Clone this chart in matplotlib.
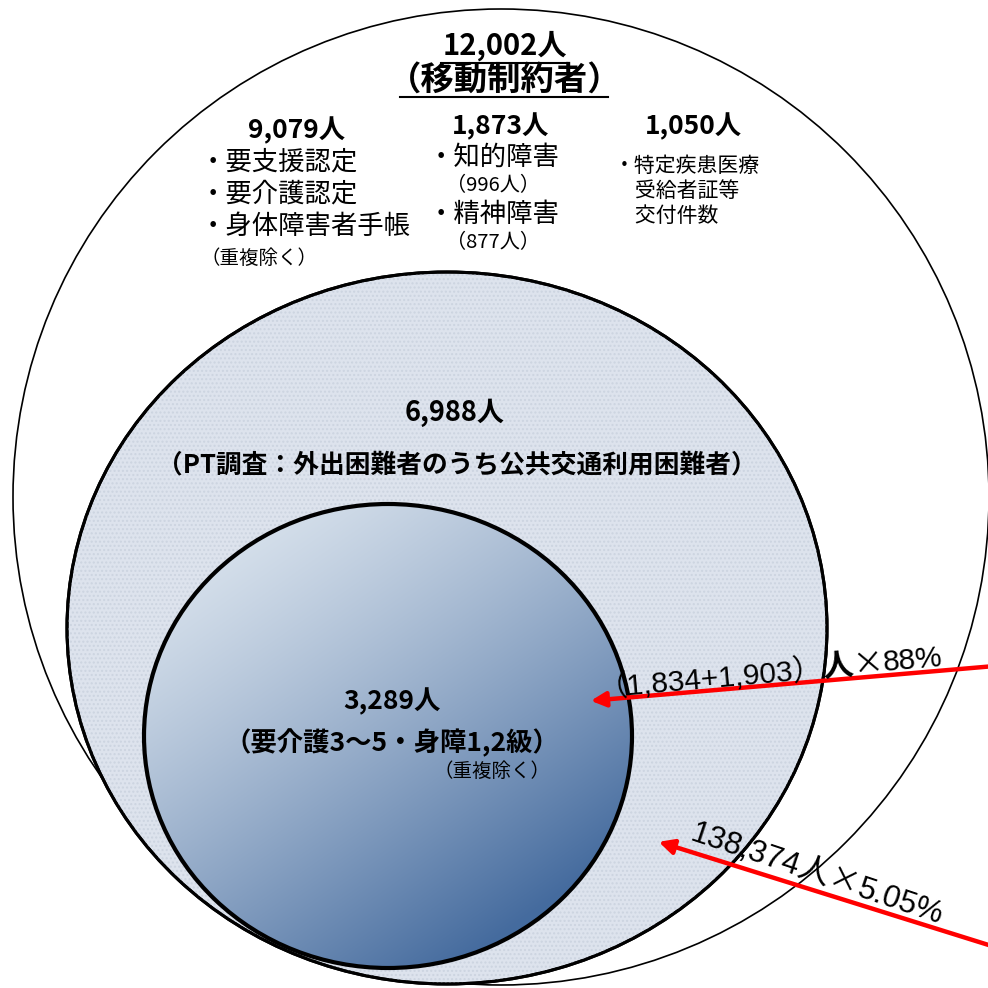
import numpy as np
import matplotlib
matplotlib.use("Agg")
import matplotlib.pyplot as plt
from matplotlib.patches import Ellipse

plt.rcParams['font.family'] = ['Noto Sans CJK JP', 'DejaVu Sans']

# 人数 (ラベル)
total_label = ["12,002人", "（移動制約者）"]
group_heads = ["9,079人", "1,873人", "1,050人"]
group1_items = ["・要支援認定", "・要介護認定", "・身体障害者手帳"]
group2_items = ["・知的障害", "（996人）", "・精神障害", "（877人）"]
group3_items = ["・特定疾患医療", "　受給者証等", "　交付件数"]
pt_label = ["6,988人", "（PT調査：外出困難者のうち公共交通利用困難者）"]
inner_label = ["3,289人", "（要介護3～5・身障1,2級）"]
dup_note = "（重複除く）"
arrow1_parts = ["（1,834+1,903）", "人", "×", "88%"]
arrow2_parts = ["138,374", "人", "×", "5.05%"]

fig = plt.figure(figsize=(9.88, 9.88), dpi=100)
ax = fig.add_axes([0, 0, 1, 1])
ax.set_xlim(0, 988)
ax.set_ylim(988, 0)
ax.axis('off')

# 外側の円
outer = Ellipse((501, 497), 976, 976, fc='white', ec='black', lw=1.2, zorder=1)
ax.add_patch(outer)

# 中間の円
mid = Ellipse((447, 628), 760, 712, fc='#dde3ed', ec='black', lw=2.2, zorder=2)
ax.add_patch(mid)
mid_h = Ellipse((447, 628), 760, 712, fc='none', ec='#ccd4e0', lw=0, hatch='....', zorder=2)
ax.add_patch(mid_h)
ax.add_patch(Ellipse((447, 628), 760, 712, fc='none', ec='black', lw=2.2, zorder=3))

# 内側の円（グラデーション）
inner = Ellipse((388, 736), 488, 464, fc='none', ec='black', lw=3, zorder=5)
ax.add_patch(inner)
yy, xx = np.mgrid[0:1:300j, 0:1:300j]
t = np.clip((xx * 0.55 + yy * 0.75) / 1.1, 0, 1) ** 1.3
c0 = np.array([0.89, 0.92, 0.95])
c1 = np.array([0.27, 0.42, 0.62])
img = c0 + (c1 - c0) * t[..., None]
im = ax.imshow(img, extent=(144, 632, 968, 504), zorder=4, interpolation='bilinear')
clip = Ellipse((388, 736), 488, 464, transform=ax.transData)
im.set_clip_path(clip)
ax.set_xlim(0, 988)
ax.set_ylim(988, 0)

# 上部タイトル
ax.text(505, 46, total_label[0], ha='center', va='center', fontsize=21, fontweight='bold')
ax.text(505, 80, total_label[1], ha='center', va='center', fontsize=24, fontweight='bold')
ax.plot([441, 567], [63, 63], color='black', lw=1.5)
ax.plot([400, 608], [97, 97], color='black', lw=1.5)

# 3グループ
ax.text(297, 131, group_heads[0], ha='center', va='center', fontsize=19, fontweight='bold')
for i, s in enumerate(group1_items):
    ax.text(200, 162 + i * 32, s, ha='left', va='center', fontsize=19)
ax.text(200, 258, dup_note, ha='left', va='center', fontsize=14)

ax.text(501, 127, group_heads[1], ha='center', va='center', fontsize=19, fontweight='bold')
ys2 = [157, 186, 214, 243]
for s, y in zip(group2_items, ys2):
    if s.startswith("・"):
        ax.text(428, y, s, ha='left', va='center', fontsize=19)
    else:
        ax.text(446, y, s, ha='left', va='center', fontsize=14.5)

ax.text(693, 127, group_heads[2], ha='center', va='center', fontsize=19, fontweight='bold')
for i, s in enumerate(group3_items):
    ax.text(614, 166 + i * 25, s, ha='left', va='center', fontsize=15)

# 中間円ラベル
ax.text(455, 413, pt_label[0], ha='center', va='center', fontsize=19.5, fontweight='bold', zorder=6)
ax.text(457, 465, pt_label[1], ha='center', va='center', fontsize=18.5, fontweight='bold', zorder=6)

# 内側円ラベル
ax.text(392, 702, inner_label[0], ha='center', va='center', fontsize=19, fontweight='bold', zorder=6)
ax.text(392, 743, inner_label[1], ha='center', va='center', fontsize=19, fontweight='bold', zorder=6)
ax.text(492, 771, dup_note, ha='center', va='center', fontsize=14, zorder=6)

# 矢印
ax.annotate('', xy=(588, 701), xytext=(995, 666),
            arrowprops=dict(arrowstyle='-|>', color='red', lw=3.2, mutation_scale=22),
            zorder=7, annotation_clip=False)
ax.annotate('', xy=(656, 841), xytext=(995, 947),
            arrowprops=dict(arrowstyle='-|>', color='red', lw=3.2, mutation_scale=22),
            zorder=7, annotation_clip=False)

renderer = fig.canvas.get_renderer()
lat = ['Liberation Sans', 'Noto Sans CJK JP']
cjk = ['Noto Sans CJK JP']


def rotated_run(x0, y0, ang, parts, styles):
    # 文字列を回転したベースラインに沿って並べる
    ux, uy = np.cos(np.radians(ang)), -np.sin(np.radians(ang))
    off = 0
    for s, st in zip(parts, styles):
        tmp = ax.text(0, 0, s, **st)
        w = tmp.get_window_extent(renderer).width
        tmp.remove()
        ax.text(x0 + off * ux, y0 + off * uy, s, ha='left', va='baseline',
                rotation=ang, rotation_mode='anchor', zorder=8, **st)
        off += w


st_num = dict(fontsize=21.5, family=lat)
st_ren = dict(fontsize=22, family=cjk, fontweight='bold')
st_x = dict(fontsize=22, family=cjk)
rotated_run(598, 696, 5, arrow1_parts, [st_num, st_ren, st_x, st_num])
rotated_run(689, 840, -18.5, arrow2_parts,
            [dict(fontsize=22.5, family=lat), dict(fontsize=23, family=cjk), st_x,
             dict(fontsize=22.5, family=lat)])

fig.savefig("out.png", dpi=100)
